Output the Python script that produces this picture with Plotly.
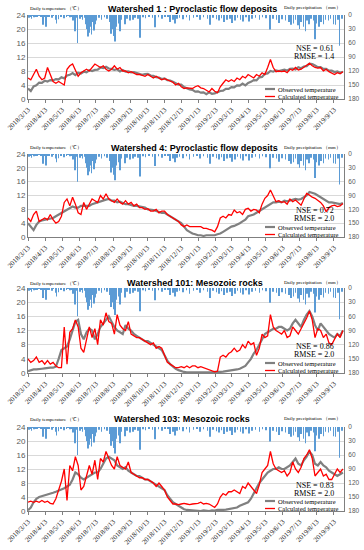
import plotly.graph_objects as go
import pandas as pd

# ---------------- data ----------------
sample_dates = pd.date_range("2018-03-13", periods=114, freq="5D")

obs_ws1 = [3.0, 2.3, 3.6, 3.9, 4.7, 4.6, 5.2, 5.0, 5.4, 5.3,
           5.7, 5.6, 6.2, 5.9, 6.7, 6.9, 7.4, 6.8, 7.5, 7.3,
           7.8, 7.6, 8.2, 8.0, 8.3, 8.4, 9.0, 8.8, 9.2, 8.7,
           8.6, 8.3, 8.5, 7.9, 8.3, 7.8, 7.9, 7.6, 7.7, 7.4,
           7.3, 6.9, 7.1, 7.2, 6.7, 6.6, 6.2, 6.1, 5.7, 5.9,
           5.4, 5.3, 4.9, 4.6, 4.1, 4.1, 3.4, 3.1, 2.7, 2.6,
           2.1, 2.2, 1.8, 1.9, 1.4, 1.9, 1.5, 1.6, 2.0, 2.3,
           2.4, 2.9, 2.9, 3.4, 3.3, 3.9, 3.8, 4.4, 3.9, 4.6,
           4.9, 5.4, 5.3, 6.2, 6.3, 7.2, 7.3, 8.0, 7.8, 8.2,
           8.0, 8.2, 8.4, 8.1, 8.6, 8.7, 8.4, 9.1, 8.8, 9.3,
           9.4, 10.1, 10.0, 9.6, 9.1, 9.1, 8.6, 8.6, 8.1, 8.1,
           7.7, 7.9, 7.5, 7.8]
calc_ws1 = [6.0, 5.5, 7.0, 8.5, 6.5, 5.5, 6.0, 9.0, 7.0, 5.0,
            4.5, 5.0, 4.5, 4.0, 8.5, 9.5, 10.0, 8.0, 6.5, 7.5,
            8.0, 8.5, 8.0, 9.0, 10.0, 9.5, 9.0, 9.5, 8.5, 8.0,
            8.5, 9.5, 8.5, 9.0, 8.0, 8.0, 7.5, 7.8, 7.5, 7.0,
            7.0, 6.8, 6.5, 7.0, 6.5, 6.0, 6.5, 6.0, 5.5, 5.8,
            5.5, 5.0, 4.8, 4.0, 4.5, 3.5, 3.0, 3.2, 3.0, 3.0,
            3.5, 3.8, 3.2, 3.0, 2.5, 2.0, 3.0, 2.2, 1.8, 3.5,
            4.5, 5.5, 5.0, 5.5, 5.0, 6.0, 5.5, 6.5, 6.0, 7.0,
            6.5, 6.0, 7.0, 6.5, 7.5, 7.0, 9.0, 11.3, 9.0, 7.8,
            8.0, 7.8, 8.0, 7.5, 8.5, 8.2, 9.0, 8.3, 8.5, 9.0,
            9.5, 10.2, 9.5, 9.0, 8.8, 9.0, 8.0, 8.5, 7.8, 7.5,
            7.0, 7.5, 7.2, 7.8]

obs_ws4 = [4.0, 3.0, 2.0, 3.5, 4.5, 4.8, 5.0, 5.2, 5.5, 5.5,
           6.0, 6.5, 7.0, 7.5, 8.0, 8.5, 8.8, 8.5, 8.5, 9.0,
           9.0, 9.2, 9.0, 9.5, 9.8, 10.0, 10.2, 10.5, 10.8, 11.0,
           10.5, 10.5, 10.0, 10.2, 9.8, 9.5, 9.5, 9.2, 9.0, 9.0,
           8.8, 8.5, 8.5, 8.0, 8.0, 7.8, 7.5, 7.2, 7.0, 7.0,
           6.5, 6.0, 5.5, 5.0, 4.5, 4.0, 3.0, 2.0, 1.5, 1.0,
           0.8, 0.5, 0.5, 0.3, 0.5, 0.5, 0.3, 0.5, 0.8, 1.0,
           1.5, 2.0, 2.5, 3.0, 3.2, 3.5, 4.0, 4.5, 5.0, 6.0,
           6.2, 6.5, 7.0, 7.5, 8.0, 8.5, 9.0, 9.5, 10.0, 10.0,
           10.2, 10.0, 10.5, 10.3, 10.5, 10.8, 11.0, 10.8, 11.0, 11.5,
           12.0, 13.0, 12.8, 12.5, 12.0, 11.5, 11.0, 10.5, 10.0, 10.0,
           9.8, 9.5, 9.5, 9.8]
calc_ws4 = [5.5, 4.5, 6.5, 7.5, 4.5, 5.0, 5.5, 5.0, 6.5, 5.0,
            4.0, 4.5, 6.0, 10.0, 11.0, 9.0, 11.5, 9.5, 7.0, 6.5,
            10.0, 8.0, 9.5, 11.0, 10.5, 10.0, 12.0, 11.0, 12.5, 11.0,
            10.5, 10.0, 11.0, 10.0, 9.5, 10.5, 9.5, 10.0, 9.0, 9.5,
            8.5, 8.5, 8.0, 8.2, 7.5, 7.5, 8.0, 7.0, 7.5, 7.5,
            6.5, 6.0, 5.5, 5.0, 4.5, 3.5, 3.0, 3.5, 3.0, 3.0,
            3.0, 2.8, 3.0, 2.5, 2.5, 2.2, 2.0, 1.5, 3.0, 5.5,
            6.0, 5.5, 6.5, 6.3, 7.8, 7.0, 7.3, 6.5, 8.0, 8.3,
            7.5, 8.0, 7.8, 7.0, 9.5, 11.2, 12.0, 13.6, 12.0, 10.2,
            10.5, 10.0, 10.2, 9.5, 11.0, 10.2, 10.7, 9.8, 9.2, 11.0,
            12.6, 12.1, 11.5, 11.2, 10.5, 10.0, 9.0, 7.3, 8.5, 9.0,
            9.2, 8.8, 9.0, 9.7]

obs_ws101 = [0.5, 0.8, 1.0, 1.0, 1.2, 1.2, 1.3, 1.5, 1.5, 1.5,
             1.8, 4.0, 6.5, 7.0, 7.5, 9.5, 12.0, 14.5, 15.0, 11.0,
             9.5, 11.5, 12.5, 12.0, 9.5, 11.0, 13.0, 14.0, 15.0, 16.0,
             14.5, 13.0, 12.0, 11.5, 11.0, 13.5, 12.5, 12.0, 11.0, 10.5,
             10.0, 9.5, 9.0, 9.0, 8.5, 8.0, 7.5, 7.0, 6.5, 5.0,
             3.5, 2.5, 1.8, 1.2, 0.8, 0.5, 0.3, 0.2, 0.2, 0.1,
             0.1, 0.0, 0.1, 0.2, 0.0, 0.1, 0.2, 0.3, 0.2, 0.3,
             0.4, 0.5, 0.5, 0.6, 0.8, 1.0, 1.2, 1.5, 2.0, 3.0,
             4.0, 5.5, 6.5, 8.0, 9.5, 11.0, 11.5, 12.0, 12.5, 12.5,
             13.0, 13.0, 12.5, 12.0, 12.5, 14.0, 15.0, 14.0, 13.0, 15.0,
             16.5, 17.5, 16.0, 13.5, 12.0, 14.0, 13.0, 12.0, 11.0, 10.5,
             10.0, 11.0, 10.5, 12.0]
calc_ws101 = [4.0, 3.0, 3.5, 4.5, 3.0, 3.5, 2.5, 3.5, 2.5, 3.0,
              2.0, 1.5, 1.5, 13.0, 2.5, 11.5, 12.5, 15.0, 13.0, 7.0,
              5.8, 9.5, 13.0, 10.0, 12.5, 8.0, 15.0, 13.5, 17.0, 14.5,
              14.0, 11.0, 16.5, 13.5, 12.5, 12.0, 14.5, 11.0, 10.5, 10.0,
              10.0, 9.5, 9.0, 8.5, 8.0, 8.5, 7.0, 7.5, 7.0, 5.0,
              3.0, 2.5, 2.0, 1.5, 1.5, 1.8, 1.5, 2.0, 1.5, 2.0,
              2.0, 1.5, 1.8, 1.5, 1.2, 1.0, 0.8, 0.3, 0.5, 4.5,
              5.0, 4.5, 5.5, 6.0, 7.0, 6.0, 6.5, 8.0, 7.0, 9.0,
              8.0, 8.5, 5.0, 7.0, 11.0, 10.0, 10.5, 16.5, 13.0, 12.0,
              11.5, 11.0, 12.0, 10.0, 10.5, 13.0, 12.0, 11.0, 12.5, 14.0,
              15.5, 17.5, 15.0, 10.0, 12.5, 12.0, 10.0, 11.0, 8.5, 8.0,
              9.5, 11.0, 10.0, 12.0]

obs_ws103 = [0.2, 1.0, 2.5, 3.5, 4.0, 4.2, 4.5, 4.8, 5.0, 5.2,
             5.5, 5.8, 6.0, 6.5, 7.0, 7.5, 9.0, 11.0, 10.5, 9.5,
             9.0, 9.5, 10.0, 10.5, 11.0, 11.0, 12.0, 13.5, 15.0, 15.5,
             15.0, 14.5, 13.0, 12.5, 12.0, 12.5, 11.5, 11.0, 10.5, 10.0,
             10.0, 9.5, 9.0, 9.0, 8.5, 8.0, 7.5, 7.0, 6.5, 6.0,
             4.5, 3.5, 2.5, 2.0, 1.5, 1.0, 0.5, 0.3, 0.2, 0.1,
             0.0, 0.1, 0.0, 0.2, 0.1, 0.0, 0.2, 0.1, 0.3, 0.2,
             0.3, 0.4, 0.5, 0.6, 0.8, 1.0, 1.5, 1.8, 2.2, 2.5,
             3.5, 5.0, 6.5, 8.0, 9.0, 10.0, 11.0, 11.5, 12.0, 12.0,
             12.5, 12.0, 12.0, 12.5, 13.0, 14.0, 15.0, 13.5, 13.0, 14.5,
             15.5, 17.0, 16.0, 13.5, 13.0, 14.0, 13.0, 12.5, 11.5, 11.0,
             10.5, 10.0, 10.5, 11.0]
calc_ws103 = [2.5, 2.8, 2.5, 2.8, 2.5, 3.0, 2.5, 2.8, 2.2, 2.0,
              3.5, 6.0, 8.5, 12.0, 3.0, 13.0, 11.5, 15.5, 13.0, 6.0,
              7.0, 10.0, 13.0, 10.5, 14.5, 9.0, 15.0, 14.0, 17.0, 15.0,
              13.0, 12.0, 15.5, 13.0, 12.5, 12.0, 14.0, 11.0, 10.5, 10.0,
              9.5, 9.5, 9.0, 9.0, 8.5, 8.0, 7.0, 8.0, 7.0, 6.0,
              4.0, 3.0, 2.0, 2.0, 1.8, 2.0, 2.2, 2.0, 1.8, 2.0,
              2.0, 2.2, 2.5, 2.0, 2.2, 2.0, 1.5, 1.0, 2.0, 4.0,
              5.0, 4.5, 5.5, 5.5, 6.0, 5.5, 5.0, 7.0, 6.5, 8.0,
              7.0, 6.0, 5.0, 7.5, 11.0, 12.0, 13.0, 17.0, 13.5, 12.0,
              11.5, 11.0, 11.5, 10.0, 11.0, 14.0, 12.0, 11.0, 12.5, 15.0,
              16.0, 17.5, 15.0, 10.0, 11.0, 12.0, 10.0, 10.5, 9.0, 9.0,
              10.5, 12.0, 11.0, 12.0]

rain_dates = [
    "2018-03-15", "2018-03-17", "2018-03-19", "2018-03-22", "2018-03-24", "2018-03-27", "2018-03-30",
    "2018-04-02", "2018-04-05", "2018-04-09", "2018-04-11", "2018-04-14", "2018-04-17", "2018-04-20",
    "2018-04-25", "2018-04-28", "2018-05-01", "2018-05-03", "2018-05-07", "2018-05-10", "2018-05-12",
    "2018-05-17", "2018-05-21", "2018-05-24", "2018-05-27", "2018-05-30", "2018-06-02", "2018-06-05",
    "2018-06-07", "2018-06-10", "2018-06-14", "2018-06-17", "2018-06-19", "2018-06-22", "2018-06-24",
    "2018-06-26", "2018-06-27", "2018-06-29", "2018-07-01", "2018-07-03", "2018-07-05", "2018-07-07",
    "2018-07-09", "2018-07-12", "2018-07-14", "2018-07-18", "2018-07-23", "2018-07-28", "2018-08-02",
    "2018-08-06", "2018-08-09", "2018-08-12", "2018-08-14", "2018-08-16", "2018-08-19", "2018-08-22",
    "2018-08-25", "2018-08-28", "2018-09-03", "2018-09-07", "2018-09-12", "2018-09-17", "2018-09-21",
    "2018-09-26", "2018-09-30", "2018-10-05", "2018-10-10", "2018-10-16", "2018-10-22", "2018-10-27",
    "2018-11-02", "2018-11-08", "2018-11-14", "2018-11-19", "2018-11-23", "2018-11-28", "2018-12-02",
    "2018-12-05", "2018-12-10", "2018-12-16", "2018-12-22", "2018-12-28",
    "2019-01-04", "2019-01-10", "2019-01-16", "2019-01-22", "2019-01-29", "2019-02-03", "2019-02-08",
    "2019-02-14", "2019-02-19", "2019-02-23", "2019-02-28", "2019-03-05", "2019-03-10", "2019-03-14",
    "2019-03-19", "2019-03-24", "2019-03-29", "2019-04-03", "2019-04-08", "2019-04-14", "2019-04-19",
    "2019-04-25", "2019-05-02", "2019-05-08", "2019-05-14", "2019-05-21", "2019-05-27", "2019-06-02",
    "2019-06-06", "2019-06-12", "2019-06-18", "2019-06-24", "2019-06-28", "2019-07-02", "2019-07-06",
    "2019-07-10", "2019-07-13", "2019-07-16", "2019-07-20", "2019-07-24", "2019-07-27", "2019-07-30",
    "2019-08-03", "2019-08-07", "2019-08-10", "2019-08-13", "2019-08-17", "2019-08-21", "2019-08-25",
    "2019-08-29", "2019-09-03", "2019-09-07", "2019-09-12", "2019-09-16", "2019-09-20", "2019-09-23",
    "2019-09-27"]
rain_mm = [
    6, 3, 8, 2, 5, 3, 4,
    2, 3, 21, 4, 25, 3, 4,
    6, 2, 10, 18, 9, 3, 4,
    7, 3, 2, 5, 4, 12, 35,
    6, 60, 8, 4, 10, 6, 20,
    14, 30, 46, 38, 25, 42, 15,
    33, 20, 12, 6, 10, 5, 8,
    15, 40, 30, 45, 57, 25, 18,
    35, 10, 20, 8, 12, 10, 6,
    8, 49, 5, 7, 4, 6, 26,
    5, 8, 4, 3, 15, 10, 18,
    8, 6, 9, 5, 12,
    6, 4, 10, 5, 8, 21, 6,
    9, 12, 7, 15, 10, 8, 17,
    12, 6, 10, 14, 5, 14, 8,
    6, 10, 5, 7, 31, 8, 10,
    17, 9, 12, 15, 21, 18, 10,
    22, 30, 15, 25, 35, 12, 20,
    8, 12, 52, 18, 25, 15, 20,
    10, 12, 8, 20, 21, 10, 66,
    8]

tick_vals = ["2018-03-13", "2018-04-13", "2018-05-13", "2018-06-13", "2018-07-13",
             "2018-08-13", "2018-09-13", "2018-10-13", "2018-11-13", "2018-12-13",
             "2019-01-13", "2019-02-13", "2019-03-13", "2019-04-13", "2019-05-13",
             "2019-06-13", "2019-07-13", "2019-08-13", "2019-09-13"]
tick_text = ["2018/3/13", "2018/4/13", "2018/5/13", "2018/6/13", "2018/7/13",
             "2018/8/13", "2018/9/13", "2018/10/13", "2018/11/13", "2018/12/13",
             "2019/1/13", "2019/2/13", "2019/3/13", "2019/4/13", "2019/5/13",
             "2019/6/13", "2019/7/13", "2019/8/13", "2019/9/13"]
temp_ticks = [0, 4, 8, 12, 16, 20, 24]
precip_ticks = [0, 30, 60, 90, 120, 150, 180]

titles = ["Watershed 1 : Pyroclastic flow deposits",
          "Watershed 4: Pyroclastic flow deposits",
          "Watershed 101: Mesozoic rocks",
          "Watershed 103: Mesozoic rocks"]
nse_vals = ["0.61", "0.72", "0.86", "0.83"]
rmse_vals = ["1.4", "2.0", "2.0", "2.0"]
obs_all = [obs_ws1, obs_ws4, obs_ws101, obs_ws103]
calc_all = [calc_ws1, calc_ws4, calc_ws101, calc_ws103]

# ---------------- layout geometry ----------------
W, H = 364, 550
L, R = 28, 20
tops = [15, 154, 288, 427]
bots = [99, 237, 373, 511]
title_y = [9, 148, 283, 419]
title_cx = [192, 194, 195, 182]
hdr_y = [9, 148, 283, 419]
nse_off = [33, 56, 58, 58]

SERIF = "Liberation Serif, Times New Roman, serif"
SANS = "Liberation Sans, Arial, sans-serif"
AXC = "#7f7f7f"
TXC = "#595959"


def py(p):
    return 1 - p / H


def px(x):
    return (x - L) / (W - L - R)


fig = go.Figure()
layout = dict(width=W, height=H, autosize=False,
              margin=dict(l=L, r=R, t=0, b=0),
              paper_bgcolor="white", plot_bgcolor="white",
              showlegend=False, template="none")
annotations = []
shapes = []

for i in range(4):
    n = i + 1
    xa = "x" if n == 1 else f"x{n}"
    ya = "y" if n == 1 else f"y{n}"
    ya2 = f"y{n + 4}"
    fig.add_trace(go.Bar(x=rain_dates, y=rain_mm, xaxis=xa, yaxis=ya2,
                         width=86400000 * 1.0,
                         marker=dict(color="#5B9BD5", line=dict(width=0)),
                         showlegend=False))
    fig.add_trace(go.Scatter(x=sample_dates, y=obs_all[i], xaxis=xa, yaxis=ya,
                             mode="lines", name="Observed temperature",
                             line=dict(color="#808080", width=2.2)))
    fig.add_trace(go.Scatter(x=sample_dates, y=calc_all[i], xaxis=xa, yaxis=ya,
                             mode="lines", name="Calculated temperature",
                             line=dict(color="#ff0000", width=1.3)))

    dom = [py(bots[i]), py(tops[i])]
    xkey = "xaxis" if n == 1 else f"xaxis{n}"
    ykey = "yaxis" if n == 1 else f"yaxis{n}"
    layout[xkey] = dict(domain=[0, 1], anchor=ya, type="date",
                        range=["2018-03-13", "2019-10-01"],
                        tickvals=tick_vals, ticktext=tick_text, tickangle=-45,
                        tickfont=dict(family=SERIF, size=7, color="#262626"),
                        ticks="outside", ticklen=3, tickcolor=AXC,
                        showline=True, linecolor=AXC, linewidth=1,
                        showgrid=False, zeroline=False)
    layout[ykey] = dict(domain=dom, anchor=xa, range=[0, 24], tickvals=temp_ticks,
                        tickfont=dict(family=SANS, size=8, color=TXC),
                        showgrid=True, gridcolor="#d9d9d9", gridwidth=1,
                        showline=True, linecolor=AXC, linewidth=1,
                        ticks="", zeroline=False)
    layout[f"yaxis{n + 4}"] = dict(domain=dom, anchor=xa, overlaying=ya, side="right",
                                   range=[180, 0], tickvals=precip_ticks,
                                   tickfont=dict(family=SANS, size=6.5, color=TXC),
                                   ticklabelstandoff=2,
                                   showgrid=False, showline=True, linecolor=AXC,
                                   linewidth=1, ticks="", zeroline=False)

    annotations.append(dict(text=f"<b>{titles[i]}</b>", xref="paper", yref="paper",
                            x=px(title_cx[i]), y=py(title_y[i]), xanchor="center",
                            yanchor="middle", showarrow=False,
                            font=dict(family=SANS, size=9, color="#000000")))
    annotations.append(dict(text="Daily temperature （℃）", xref="paper", yref="paper",
                            x=px(28), y=py(hdr_y[i]), xanchor="left", yanchor="middle",
                            showarrow=False,
                            font=dict(family=SERIF, size=5, color="#000000")))
    annotations.append(dict(text="Daily precipitation （mm）", xref="paper", yref="paper",
                            x=px(343), y=py(hdr_y[i] - 1), xanchor="right", yanchor="middle",
                            showarrow=False,
                            font=dict(family=SERIF, size=5, color="#000000")))
    annotations.append(dict(text=f"NSE = {nse_vals[i]}", xref="paper", yref="paper",
                            x=px(336), y=py(tops[i] + nse_off[i]), xanchor="right",
                            yanchor="middle", showarrow=False,
                            font=dict(family=SERIF, size=8, color="#000000")))
    annotations.append(dict(text=f"RMSE = {rmse_vals[i]}", xref="paper", yref="paper",
                            x=px(336), y=py(tops[i] + nse_off[i] + 8.5), xanchor="right",
                            yanchor="middle", showarrow=False,
                            font=dict(family=SERIF, size=8, color="#000000")))
    # legend (manual, compact)
    for j, (lab, col, lw) in enumerate([("Observed temperature", "#808080", 2.2),
                                        ("Calculated temperature", "#ff0000", 1.3)]):
        yy = bots[i] - 10 + 7.5 * j
        shapes.append(dict(type="line", xref="paper", yref="paper",
                           x0=px(265), x1=px(275), y0=py(yy), y1=py(yy),
                           line=dict(color=col, width=lw)))
        annotations.append(dict(text=lab, xref="paper", yref="paper",
                                x=px(276), y=py(yy), xanchor="left", yanchor="middle",
                                showarrow=False,
                                font=dict(family=SERIF, size=6.5, color="#000000")))

layout["annotations"] = annotations
layout["shapes"] = shapes
fig.update_layout(**layout)
fig.write_html("out.html", config={"displayModeBar": False},
               post_script="document.body.style.margin='0';document.body.style.padding='0';")
